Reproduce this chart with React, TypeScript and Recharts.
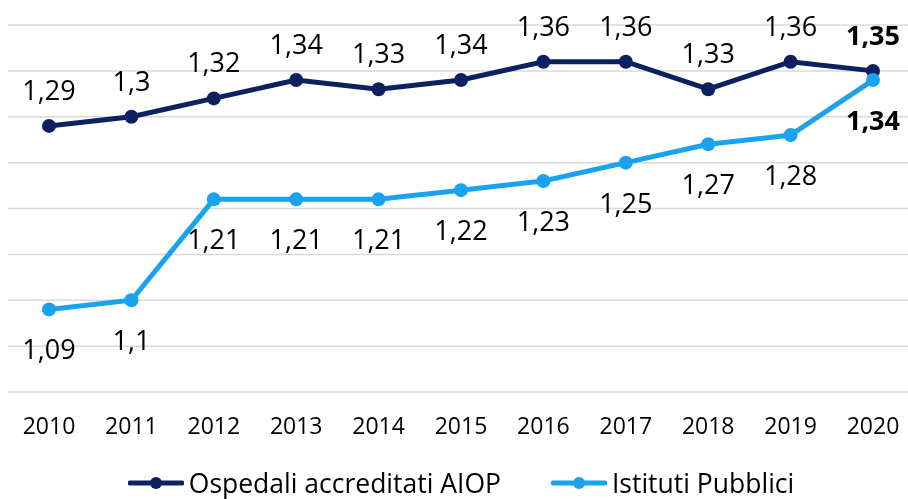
import React from 'react';
import { LineChart, Line, XAxis, YAxis, CartesianGrid, Legend, LabelList } from 'recharts';

const years = ['2010', '2011', '2012', '2013', '2014', '2015', '2016', '2017', '2018', '2019', '2020'];
const aiopValues = [1.29, 1.3, 1.32, 1.34, 1.33, 1.34, 1.36, 1.36, 1.33, 1.36, 1.35];
const pubbliciValues = [1.09, 1.1, 1.21, 1.21, 1.21, 1.22, 1.23, 1.25, 1.27, 1.28, 1.34];
const yTicks = [1.0, 1.05, 1.1, 1.15, 1.2, 1.25, 1.3, 1.35, 1.4];
const seriesNames = ['Ospedali accreditati AIOP', 'Istituti Pubblici'];

const DARK = '#0D2160';
const LIGHT = '#19A3EF';
const FONT = '"Open Sans", "Noto Sans", sans-serif';

const data = years.map((y, i) => ({ year: y, aiop: aiopValues[i], pubblici: pubbliciValues[i] }));

const fmt = (v: number) => String(v).replace('.', ',');

const makeLabel = (below: boolean) => (props: any) => {
  const x = props.x ?? props.viewBox?.x;
  const y = props.y ?? props.viewBox?.y;
  const { value, index } = props;
  if (x == null || y == null) return null;
  const last = index === years.length - 1;
  return (
    <text
      x={x}
      y={below ? y + 50 : y - 26}
      textAnchor="middle"
      fontFamily={FONT}
      fontSize={27}
      fontWeight={last ? 700 : 400}
      fill="#000"
    >
      {fmt(value)}
    </text>
  );
};

const LegendContent = (props: any) => {
  const payload = [...(props.payload || [])].sort(
    (a: any, b: any) => seriesNames.indexOf(a.value) - seriesNames.indexOf(b.value)
  );
  return (
    <div
      style={{
        display: 'flex',
        justifyContent: 'center',
        alignItems: 'center',
        height: 57,
        paddingTop: 25,
        boxSizing: 'border-box',
        fontFamily: FONT,
        fontSize: 26.5,
        lineHeight: '28px',
        color: '#000',
      }}
    >
      {payload.map((p: any, i: number) => (
        <div key={i} style={{ display: 'flex', alignItems: 'center', marginLeft: i === 0 ? 0 : 50 }}>
          <svg width={56} height={20} style={{ marginRight: 5, display: 'block' }}>
            <line x1={2} y1={10} x2={54} y2={10} stroke={p.color} strokeWidth={5} strokeLinecap="round" />
            <circle cx={28} cy={10} r={6} fill={p.color} />
          </svg>
          <span>{p.value}</span>
        </div>
      ))}
    </div>
  );
};

export default function App() {
  return (
    <div style={{ position: 'fixed', left: 8, top: 8, width: 906, height: 491 }}>
      <LineChart width={906} height={491} data={data} margin={{ top: 17, right: 0, bottom: 0, left: 0 }}>
        <CartesianGrid vertical={false} stroke="#d9d9d9" strokeWidth={1.5} />
        <XAxis
          dataKey="year"
          axisLine={false}
          tickLine={false}
          tickSize={6}
          tickMargin={20}
          height={50}
          padding={{ left: 41, right: 41 }}
          tick={{ fontFamily: FONT, fontSize: 23, fill: '#000' }}
          interval={0}
        />
        <YAxis hide domain={[1, 1.4]} ticks={yTicks} />
        <Legend
          verticalAlign="bottom"
          height={57}
          wrapperStyle={{ top: 434, bottom: 'auto', left: 0, width: 906, height: 57 }}
          content={<LegendContent />}
        />
        <Line
          name={seriesNames[0]}
          dataKey="aiop"
          stroke={DARK}
          strokeWidth={5}
          dot={{ r: 7, fill: DARK, stroke: DARK, strokeWidth: 0 }}
          activeDot={false}
          isAnimationActive={false}
        >
          <LabelList dataKey="aiop" content={makeLabel(false)} />
        </Line>
        <Line
          name={seriesNames[1]}
          dataKey="pubblici"
          stroke={LIGHT}
          strokeWidth={5}
          dot={{ r: 7, fill: LIGHT, stroke: LIGHT, strokeWidth: 0 }}
          activeDot={false}
          isAnimationActive={false}
        >
          <LabelList dataKey="pubblici" content={makeLabel(true)} />
        </Line>
      </LineChart>
    </div>
  );
}
